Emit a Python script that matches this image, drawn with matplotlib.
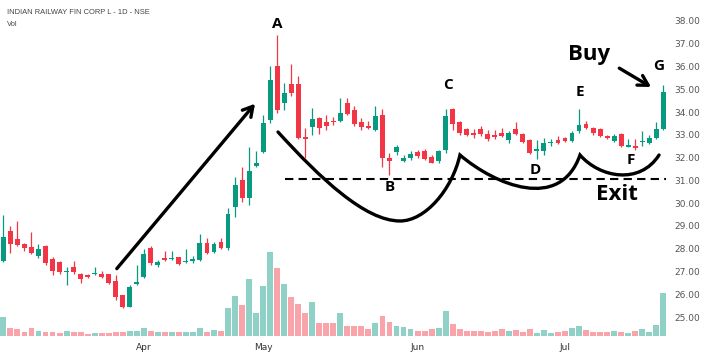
import matplotlib
matplotlib.use("Agg")
import matplotlib.pyplot as plt
from matplotlib.path import Path
from matplotlib.patches import PathPatch

# --- data (daily candles, IRFC, Mar-Jul) ---
opens = [27.45, 28.78, 28.41, 28.19, 28.06, 27.68, 28.13, 27.55, 27.40, 26.97,
         27.21, 26.89, 26.85, 26.89, 26.89, 26.89, 26.58, 25.95, 25.45, 26.45,
         26.77, 28.02, 27.28, 27.58, 27.56, 27.62, 27.40, 27.46, 27.50, 28.24,
         27.87, 28.28, 28.02, 29.82, 31.02, 30.21, 31.65, 32.26, 33.65, 36.04,
         34.41, 35.22, 35.22, 32.89, 33.36, 33.73, 33.58, 33.62, 33.62, 34.39,
         34.09, 33.56, 33.39, 33.21, 33.87, 31.97, 32.23, 31.86, 31.97, 32.23,
         32.30, 32.01, 31.83, 32.33, 34.12, 33.56, 33.24, 33.07, 33.24, 33.04,
         32.99, 33.09, 32.77, 33.25, 33.04, 32.77, 32.29, 32.31, 32.63, 32.77,
         32.85, 32.74, 33.17, 33.48, 33.29, 33.24, 32.95, 32.74, 33.04, 32.47,
         32.51, 32.68, 32.66, 32.85, 33.24]
highs = [29.50, 29.00, 29.20, 28.26, 28.72, 28.21, 28.15, 27.62, 27.45, 27.21,
         27.47, 26.95, 26.90, 27.20, 27.00, 26.90, 26.85, 25.98, 26.40, 27.28,
         28.00, 28.12, 27.50, 27.91, 27.90, 27.65, 28.00, 27.70, 28.63, 28.46,
         28.30, 28.46, 29.77, 31.16, 31.58, 32.48, 32.30, 33.87, 36.02, 37.38,
         35.29, 36.10, 35.58, 33.29, 34.17, 33.80, 33.85, 33.80, 34.60, 34.60,
         34.25, 33.75, 33.60, 34.27, 34.12, 32.22, 32.55, 32.10, 32.30, 32.35,
         32.38, 32.10, 32.35, 34.12, 34.17, 33.60, 33.30, 33.24, 33.38, 33.20,
         33.20, 33.30, 33.15, 33.58, 33.10, 32.82, 32.77, 32.85, 32.80, 32.95,
         32.90, 33.15, 34.12, 33.60, 33.35, 33.30, 33.00, 33.05, 33.10, 32.80,
         32.80, 33.17, 33.00, 33.58, 35.19]
lows = [27.40, 27.80, 28.10, 27.90, 27.77, 27.58, 27.30, 26.85, 26.90, 26.41,
        26.89, 26.48, 26.70, 26.85, 26.70, 26.45, 25.75, 25.38, 25.42, 26.42,
        26.70, 27.30, 27.20, 27.45, 27.52, 27.30, 27.35, 27.35, 27.45, 27.75,
        27.82, 28.00, 27.95, 29.38, 30.05, 29.92, 31.60, 32.19, 33.50, 33.95,
        34.10, 34.70, 32.80, 31.97, 33.00, 33.04, 33.20, 33.45, 33.55, 33.85,
        33.40, 33.20, 33.25, 33.15, 31.60, 31.24, 32.10, 31.80, 31.90, 32.00,
        31.90, 31.75, 31.78, 32.20, 33.20, 32.98, 32.95, 32.88, 32.95, 32.75,
        32.80, 32.90, 32.62, 33.00, 32.65, 32.15, 31.93, 32.10, 32.50, 32.60,
        32.70, 32.70, 33.10, 33.25, 33.00, 32.90, 32.80, 32.70, 32.45, 32.45,
        32.35, 32.50, 32.60, 32.80, 33.20]
closes = [28.50, 28.20, 28.16, 28.04, 27.82, 27.97, 27.36, 27.03, 26.96, 27.03,
          26.96, 26.65, 26.74, 26.93, 26.77, 26.51, 25.87, 25.45, 26.33, 26.55,
          27.77, 27.36, 27.43, 27.50, 27.60, 27.33, 27.47, 27.55, 28.24, 27.80,
          28.19, 28.02, 29.52, 30.80, 30.21, 31.43, 31.75, 33.51, 35.41, 34.09,
          34.82, 34.82, 32.87, 32.82, 33.68, 33.29, 33.39, 33.55, 33.95, 33.90,
          33.48, 33.34, 33.31, 33.83, 31.97, 31.86, 32.47, 32.00, 32.16, 32.08,
          31.94, 31.78, 32.30, 33.83, 33.48, 33.09, 32.99, 32.99, 33.04, 32.80,
          32.92, 32.95, 33.07, 33.04, 32.70, 32.19, 32.36, 32.66, 32.70, 32.66,
          32.74, 33.09, 33.43, 33.29, 33.07, 32.95, 32.85, 32.96, 32.51, 32.54,
          32.44, 32.72, 32.85, 33.24, 34.90]
# volume in millions of shares
volumes = [19.3, 8.3, 7.0, 4.3, 8.3, 5.3, 4.3, 4.3, 3.3, 5.0,
           3.7, 3.7, 2.3, 2.7, 3.0, 3.3, 4.0, 3.7, 5.0, 5.0,
           7.7, 5.3, 4.0, 3.7, 3.7, 3.7, 3.7, 3.7, 7.7, 4.3,
           6.0, 5.0, 28.0, 40.0, 31.0, 57.0, 23.3, 50.0, 83.7, 67.7,
           51.7, 38.7, 32.0, 23.3, 33.7, 13.3, 13.0, 13.0, 22.7, 10.3,
           10.3, 10.0, 7.0, 12.7, 20.0, 13.7, 10.0, 8.7, 7.0, 5.3,
           5.3, 6.7, 7.7, 25.3, 12.0, 6.7, 5.3, 5.0, 5.0, 4.3,
           5.0, 6.7, 5.0, 6.0, 4.0, 6.7, 3.3, 6.0, 2.7, 4.3,
           5.0, 8.3, 10.3, 6.0, 4.3, 4.3, 4.3, 5.3, 4.3, 3.3,
           5.0, 7.0, 4.3, 11.0, 42.7]
month_pos = [20, 37, 59, 80]
month_labels = ["Apr", "May", "Jun", "Jul"]
price_ticks = [25, 26, 27, 28, 29, 30, 31, 32, 33, 34, 35, 36, 37, 38]

UP, DOWN = "#089981", "#f23645"
n = len(opens)
idx = list(range(n))
up = [c >= o for o, c in zip(opens, closes)]
cols = [UP if u else DOWN for u in up]

fig = plt.figure(figsize=(7.06, 3.62), dpi=100)
rect = [0, 26 / 362, 670 / 706, 336 / 362]

# volume pane (behind)
axv = fig.add_axes(rect)
axv.bar(idx, volumes, width=0.84, color=cols, alpha=0.45, linewidth=0)
axv.set_ylim(0, 336)
axv.axis("off")

ax = fig.add_axes(rect, sharex=axv)
ax.patch.set_alpha(0)
ax.vlines(idx, lows, highs, colors=cols, linewidth=0.9)
bottoms = [min(o, c) for o, c in zip(opens, closes)]
heights = [max(abs(c - o), 0.05) for o, c in zip(opens, closes)]
ax.bar(idx, heights, bottom=bottoms, width=0.7, color=cols, linewidth=0)

ax.set_xlim(-0.484, 94.96)
ax.set_ylim(24.166, 38.922)
for s in ax.spines.values():
    s.set_visible(False)
ax.yaxis.tick_right()
ax.set_yticks(price_ticks)
ax.set_yticklabels([f"{p:.2f}" for p in price_ticks])
ax.tick_params(axis="y", length=0, pad=3, labelsize=6.5, labelcolor="#555555")
ax.set_xticks(month_pos)
ax.set_xticklabels(month_labels)
ax.tick_params(axis="x", length=0, pad=5, labelsize=6.5, labelcolor="#333333")

fig.text(7 / 706, 1 - 12 / 362, "INDIAN RAILWAY FIN CORP L - 1D - NSE",
         fontsize=5.4, color="#444444", va="center", family="Liberation Sans")
fig.text(7 / 706, 1 - 24 / 362, "Vol", fontsize=5.4, color="#444444",
         va="center", family="Liberation Sans")

# --- annotations ---
arrow_kw = dict(arrowstyle="->,head_length=0.7,head_width=0.4", lw=2.4, color="black")
ax.annotate("", xy=(36.1, 34.46), xytext=(15.9, 27.03), arrowprops=arrow_kw)
ax.annotate("", xy=(92.6, 35.04), xytext=(87.4, 35.99), arrowprops=arrow_kw)

C4 = Path.CURVE4
cup_verts = [(39.12, 33.125), (45.10, 31.105), (51.51, 29.217), (56.50, 29.217),
             (60.06, 29.217), (63.90, 30.578), (65.04, 32.115),
             (70.03, 30.80), (79.29, 29.61), (82.14, 32.115),
             (84.99, 31.105), (90.68, 30.80), (93.40, 32.115)]
cup_codes = [Path.MOVETO] + [C4] * 12
ax.add_patch(PathPatch(Path(cup_verts, cup_codes), fill=False, lw=2.4,
                       edgecolor="black", capstyle="round"))

ax.plot([40.1, 94.4], [31.04, 31.04], color="black", lw=1.5, ls=(0, (4, 2.5)))

letter_kw = dict(fontsize=11, fontweight="bold", ha="center", va="center",
                 family="Open Sans", color="black")
for t, x, y in [("A", 38.97, 37.87), ("B", 55.07, 30.71), ("C", 63.3, 35.19),
                ("D", 75.7, 31.46), ("E", 82.1, 34.88), ("F", 89.4, 31.9),
                ("G", 93.4, 36.02)]:
    ax.text(x, y, t, **letter_kw)
ax.text(83.4, 36.55, "Buy", fontsize=16, fontweight="bold", ha="center",
        va="center", family="Open Sans")
ax.text(87.4, 30.36, "Exit", fontsize=16, fontweight="bold", ha="center",
        va="center", family="Open Sans")

fig.savefig("out.png", dpi=100)
